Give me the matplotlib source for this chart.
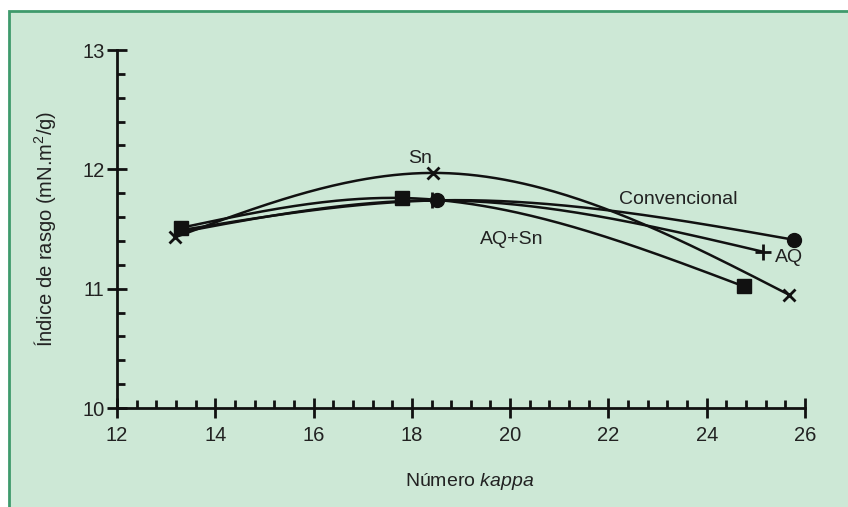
import numpy as np
import matplotlib
matplotlib.use("Agg")
import matplotlib.pyplot as plt
from matplotlib.patches import Rectangle
from matplotlib.ticker import MultipleLocator
from matplotlib import font_manager

# ---- data ----
conv_x = [13.30, 18.52, 25.77]
conv_y = [11.49, 11.74, 11.41]
aq_x = [13.25, 18.42, 25.14]
aq_y = [11.47, 11.74, 11.31]
sn_x = [13.18, 18.44, 25.67]
sn_y = [11.43, 11.97, 10.95]
aqsn_x = [13.30, 17.80, 24.75]
aqsn_y = [11.51, 11.76, 11.02]

x_ticks = [12, 14, 16, 18, 20, 22, 24, 26]
y_ticks = [10, 11, 12, 13]

names = set(f.name for f in font_manager.fontManager.ttflist)
FONT = "Liberation Sans Narrow" if "Liberation Sans Narrow" in names else "Liberation Sans"
plt.rcParams["font.family"] = [FONT, "DejaVu Sans"]
plt.rcParams["mathtext.fontset"] = "custom"
plt.rcParams["mathtext.rm"] = FONT
plt.rcParams["mathtext.it"] = FONT + ":italic"

BG = "#cde8d6"
BORDER = "#3f9a6c"


def natural_spline(x, y, n=200):
    x = np.asarray(x, float)
    y = np.asarray(y, float)
    k = len(x)
    h = np.diff(x)
    A = np.zeros((k, k))
    b = np.zeros(k)
    A[0, 0] = 1
    A[-1, -1] = 1
    for i in range(1, k - 1):
        A[i, i - 1] = h[i - 1]
        A[i, i] = 2 * (h[i - 1] + h[i])
        A[i, i + 1] = h[i]
        b[i] = 6 * ((y[i + 1] - y[i]) / h[i] - (y[i] - y[i - 1]) / h[i - 1])
    M = np.linalg.solve(A, b)
    xs = np.linspace(x[0], x[-1], n)
    ys = np.empty_like(xs)
    for j, xv in enumerate(xs):
        i = min(np.searchsorted(x, xv, side="right") - 1, k - 2)
        i = max(i, 0)
        t1 = x[i + 1] - xv
        t0 = xv - x[i]
        ys[j] = (M[i] * t1 ** 3 / (6 * h[i]) + M[i + 1] * t0 ** 3 / (6 * h[i])
                 + (y[i] / h[i] - M[i] * h[i] / 6) * t1
                 + (y[i + 1] / h[i] - M[i + 1] * h[i] / 6) * t0)
    return xs, ys


fig = plt.figure(figsize=(8.48, 5.07), dpi=100, facecolor="white")
fig.patches.append(Rectangle((9 / 848, -0.05), 1.2, 1 - 11 / 507 + 0.05,
                             transform=fig.transFigure, facecolor=BG,
                             edgecolor=BORDER, linewidth=2.0, zorder=-10))

ax = fig.add_axes([117 / 848, 1 - 408 / 507, 688 / 848, 358 / 507])
ax.set_zorder(5)
ax.set_facecolor("none")
ax.set_xlim(12, 26)
ax.set_ylim(10, 13)
for s in ["top", "right"]:
    ax.spines[s].set_visible(False)
for s in ["left", "bottom"]:
    ax.spines[s].set_linewidth(2.0)
    ax.spines[s].set_color("#111111")

series = [
    (conv_x, conv_y, "o", 10, [1, 2]),
    (aq_x, aq_y, "+", 12, [1, 2]),
    (sn_x, sn_y, "x", 8, [0, 1, 2]),
    (aqsn_x, aqsn_y, "s", 10, [0, 1, 2]),
]
for xs, ys, m, ms, every in series:
    cx, cy = natural_spline(xs, ys)
    ax.plot(cx, cy, color="#111111", lw=1.8, zorder=3, clip_on=False)
    px = [xs[i] for i in every]
    py = [ys[i] for i in every]
    ax.plot(px, py, linestyle="none", marker=m, markersize=ms,
            color="#111111", markeredgewidth=2.0 if m in "x+" else 1.0,
            zorder=4, clip_on=False)

ax.set_xticks(x_ticks)
ax.set_yticks(y_ticks)
ax.xaxis.set_minor_locator(MultipleLocator(0.4))
ax.yaxis.set_minor_locator(MultipleLocator(0.2))
ax.tick_params(axis="both", which="major", direction="inout", length=14,
               width=2.0, colors="#111111", labelsize=14.5, labelcolor="#222222")
ax.tick_params(axis="both", which="minor", direction="in", length=6,
               width=2.0, colors="#111111")
ax.tick_params(axis="x", which="major", pad=6)
ax.tick_params(axis="y", which="major", pad=2)

ax.text(18.17, 12.09, "Sn", fontsize=14, ha="center", va="center", color="#222222")
ax.text(23.43, 11.75, "Convencional", fontsize=14, ha="center", va="center", color="#222222")
ax.text(25.67, 11.26, "AQ", fontsize=14, ha="center", va="center", color="#222222")
ax.text(20.04, 11.41, "AQ+Sn", fontsize=14, ha="center", va="center", color="#222222")

fig.text(470 / 848, 1 - 482 / 507, "Número $\\it{kappa}$", fontsize=14,
         ha="center", va="center", color="#222222")
fig.text(45 / 848, 1 - 229 / 507, "Índice de rasgo (mN.m$^2$/g)", fontsize=14.5,
         rotation=90, ha="center", va="center", color="#222222")

fig.savefig("out.png", dpi=100, facecolor="white")
